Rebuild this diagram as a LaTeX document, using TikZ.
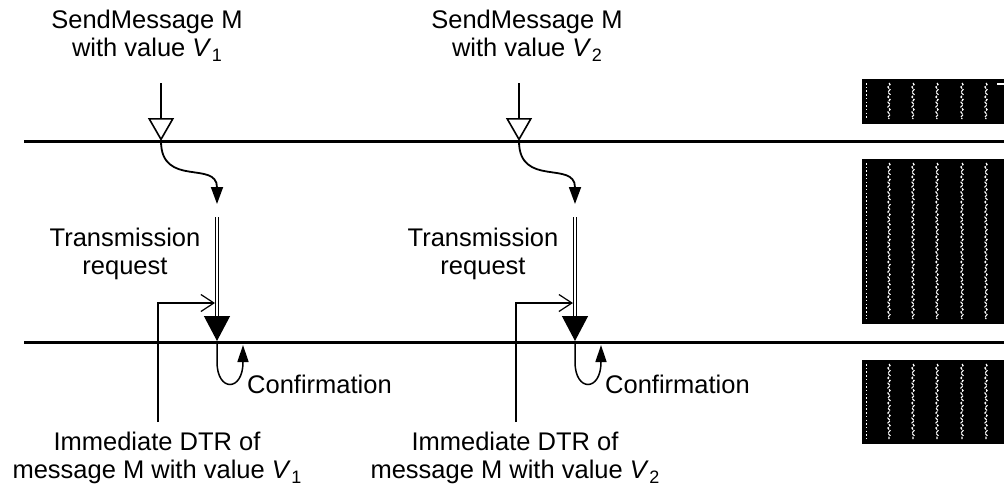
\documentclass[tikz,border=0pt]{standalone}
\usepackage{fontspec}
\setmainfont{Liberation Sans}
\usetikzlibrary{arrows.meta,decorations.pathmorphing}
\newcommand\valsub[1]{\textit{V}\kern0.5pt\raisebox{-0.35ex}{\fontsize{18}{18}\selectfont #1}}
\tikzset{
  lbl/.style={font=\fontsize{25.5}{28}\selectfont, align=center, inner sep=0pt},
  busline/.style={line width=3pt},
  trigger/.style={line width=2pt, -{Triangle[open, width=26pt, length=23pt, line width=1.6pt]}},
  handoff/.style={line width=1.8pt, -{Triangle[width=12pt, length=17pt]}},
  request/.style={line width=1.6pt, double, double distance=1.2pt},
  bigtip/.style={line width=1.2pt, -{Triangle[width=26pt, length=25pt]}},
  confirm/.style={line width=1.5pt, -{Triangle[width=11pt, length=17pt]}},
  dtr/.style={line width=1.2pt, -{Straight Barb[width=17pt, length=13pt, line width=1.2pt]}},
  layerbox/.style={fill=black, draw=black},
  dotcol/.style={white, line width=1.4pt, dash pattern=on 1.5pt off 2.2pt},
  wavecol/.style={white, line width=1.1pt, dash pattern=on 3pt off 1.2pt,
    decorate, decoration={snake, amplitude=1.1pt, segment length=5pt}},
}
\begin{document}
\begin{tikzpicture}[x=1pt, y=-1pt]
\useasboundingbox (0,0) rectangle (1004,501);

% layer boundaries
\coordinate (topL) at (24,141);  \coordinate (topR) at (1004,141);
\coordinate (botL) at (24,342);  \coordinate (botR) at (1004,342);
\draw[busline] (topL) -- (topR);
\draw[busline] (botL) -- (botR);

% layer blocks at the right edge
\foreach \name/\ya/\yb in {boxA/79/123, boxB/159/323, boxC/360/443}{
  \fill[layerbox] (862,\ya) rectangle (1006,\yb);
  \draw[dotcol] (866.7,\ya+4) -- (866.7,\yb-4);
  \foreach \cx in {889,913,937,962,986}
    \draw[wavecol] (\cx,\ya+4) -- (\cx,\yb-4);
}
\draw[white, line width=1.2pt] (997,84) -- (1004,84);

% two identical send sequences
\foreach \i/\dx/\sx in {1/0/147, 2/358/527}{
  \begin{scope}[xshift=\dx pt]
    \node[lbl] (send\i) at (\sx-\dx,36) {SendMessage M\\with value \valsub{\i}};
    \coordinate (trigTop\i) at (161,83);
    \coordinate (trigTip\i) at (161,141);
    \coordinate (reqTop\i)  at (217,204);
    \coordinate (reqMid\i)  at (217,316);
    \coordinate (reqTip\i)  at (217,341);
    \coordinate (confA\i)   at (217,343);
    \coordinate (confTip\i) at (243,345);
    \coordinate (dtrFoot\i) at (158,422);
    \coordinate (dtrTip\i)  at (215,303);
    \draw[trigger] (trigTop\i) -- (trigTip\i);
    \draw[handoff] (trigTip\i) .. controls (161,188) and (217,160) .. (reqTop\i);
    \draw[request] (217,217) -- (reqMid\i);
    \draw[bigtip] (reqMid\i) -- (reqTip\i);
    \draw[confirm] (confA\i) -- (217,362) .. controls (217,392) and (243,392) .. (243,362) -- (confTip\i);
    \draw[dtr] (dtrFoot\i) |- (dtrTip\i);
    \node[lbl] (txreq\i) at (125,254) {Transmission\\request};
    \node[lbl, anchor=west] (conf\i) at (247,384) {Confirmation};
    \node[lbl] (imm\i) at (157,458) {Immediate DTR of\\message M with value \valsub{\i}};
  \end{scope}
}
\end{tikzpicture}
\end{document}
